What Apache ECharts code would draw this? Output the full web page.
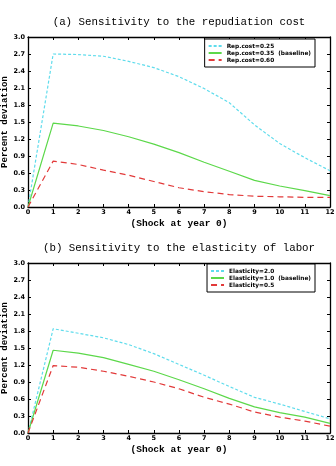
<!DOCTYPE html>
<html>
<head>
<meta charset="utf-8">
<script src="https://cdn.jsdelivr.net/npm/echarts@6/dist/echarts.min.js"></script>
<style>
  html, body { margin: 0; padding: 0; background: #fff; }
  #chart { width: 336px; height: 466px; }
</style>
</head>
<body>
<div id="chart"></div>
<script>
// years after the shock
const years = ['0', '1', '2', '3', '4', '5', '6', '7', '8', '9', '10', '11', '12'];

// (a) repudiation cost
const repLow = [0, 2.70, 2.69, 2.66, 2.57, 2.46, 2.30, 2.09, 1.84, 1.45, 1.12, 0.87, 0.64];
const repBase = [0, 1.48, 1.43, 1.35, 1.24, 1.11, 0.96, 0.79, 0.63, 0.47, 0.37, 0.29, 0.20];
const repHigh = [0, 0.81, 0.75, 0.65, 0.56, 0.45, 0.34, 0.27, 0.22, 0.19, 0.18, 0.17, 0.17];

// (b) elasticity of labor
const elaHigh = [0, 1.84, 1.76, 1.68, 1.56, 1.40, 1.21, 1.02, 0.82, 0.63, 0.51, 0.38, 0.25];
const elaBase = [0, 1.46, 1.41, 1.33, 1.21, 1.09, 0.94, 0.78, 0.61, 0.46, 0.36, 0.28, 0.17];
const elaLow = [0, 1.19, 1.16, 1.09, 1.00, 0.90, 0.78, 0.63, 0.51, 0.37, 0.28, 0.21, 0.12];

const namesA = ['Rep.cost=0.25', 'Rep.cost=0.35  (baseline)', 'Rep.cost=0.60'];
const namesB = ['Elasticity=2.0', 'Elasticity=1.0  (baseline)', 'Elasticity=0.5'];

const CYAN = '#5fdcec';
const GREEN = '#5cd84a';
const RED = '#e23a3a';
const MONO = '"Liberation Mono", "DejaVu Sans Mono", monospace';
const tickFont = { fontFamily: 'DejaVu Sans', fontWeight: 'bold', fontSize: 6.5, color: '#000' };

const chart = echarts.init(document.getElementById('chart'));

const grids = [
  { left: 28, top: 37, width: 302, height: 170, outerBoundsMode: 'none', containLabel: false },
  { left: 28, top: 263, width: 302, height: 170, outerBoundsMode: 'none', containLabel: false }
];

function xAxes(gi) {
  const base = {
    type: 'category', data: years, boundaryGap: false, gridIndex: gi,
    axisLine: { onZero: false, lineStyle: { color: '#000', width: 1.3 } },
    axisTick: { inside: true, length: 3, lineStyle: { color: '#000' } },
    splitLine: { show: false }
  };
  return [
    Object.assign({}, base, {
      position: 'bottom',
      axisLabel: Object.assign({ margin: 2 }, tickFont),
      name: '(Shock at year 0)', nameLocation: 'middle', nameGap: 12, nameMoveOverlap: false,
      nameTextStyle: { fontFamily: MONO, fontSize: 9.5, fontWeight: 'bold', color: '#000' }
    }),
    Object.assign({}, base, { position: 'top', axisLabel: { show: false } })
  ];
}

function yAxes(gi) {
  const base = {
    type: 'value', min: 0, max: 3, interval: 0.3, gridIndex: gi,
    axisLine: { show: true, lineStyle: { color: '#000', width: 1.3 } },
    axisTick: { show: true, inside: true, length: 3, lineStyle: { color: '#000' } },
    splitLine: { show: false }
  };
  return [
    Object.assign({}, base, {
      position: 'left',
      axisLabel: Object.assign({ margin: 3, formatter: v => v.toFixed(1) }, tickFont),
      name: 'Percent deviation', nameLocation: 'middle', nameGap: 19, nameMoveOverlap: false,
      nameTextStyle: { fontFamily: MONO, fontSize: 9, fontWeight: 'bold', color: '#000' }
    }),
    Object.assign({}, base, { position: 'right', axisLabel: { show: false } })
  ];
}

function lines(names, vals, xi, yi) {
  const styles = [
    { color: CYAN, type: [3, 2] },
    { color: GREEN, type: 'solid' },
    { color: RED, type: [6, 4] }
  ];
  return vals.map((v, i) => ({
    type: 'line', name: names[i], data: v,
    xAxisIndex: xi, yAxisIndex: yi,
    symbol: 'none', silent: true, animation: false,
    lineStyle: { color: styles[i].color, type: styles[i].type, width: 1.2 },
    itemStyle: { color: styles[i].color }
  }));
}

const legendBase = {
  orient: 'vertical', right: 21, itemWidth: 13, itemHeight: 6, itemGap: 1,
  padding: [4, 4, 4, 3], borderColor: '#000', borderWidth: 1, backgroundColor: '#fff',
  itemStyle: { opacity: 0 },
  textStyle: { fontFamily: 'DejaVu Sans', fontWeight: 'bold', fontSize: 5.8, color: '#000' },
  selectedMode: false
};

const titleStyle = { fontFamily: MONO, fontSize: 10.8, fontWeight: 'normal', color: '#000' };

chart.setOption({
  animation: false,
  title: [
    { text: '(a) Sensitivity to the repudiation cost', left: 174, textAlign: 'center', top: 12,
      textStyle: titleStyle },
    { text: '(b) Sensitivity to the elasticity of labor', left: 174, textAlign: 'center', top: 238,
      textStyle: titleStyle }
  ],
  grid: grids,
  xAxis: xAxes(0).concat(xAxes(1)),
  yAxis: yAxes(0).concat(yAxes(1)),
  legend: [
    Object.assign({}, legendBase, { top: 39, data: namesA }),
    Object.assign({}, legendBase, { top: 264, data: namesB })
  ],
  series: lines(namesA, [repLow, repBase, repHigh], 0, 0)
    .concat(lines(namesB, [elaHigh, elaBase, elaLow], 2, 2))
});
</script>
</body>
</html>
